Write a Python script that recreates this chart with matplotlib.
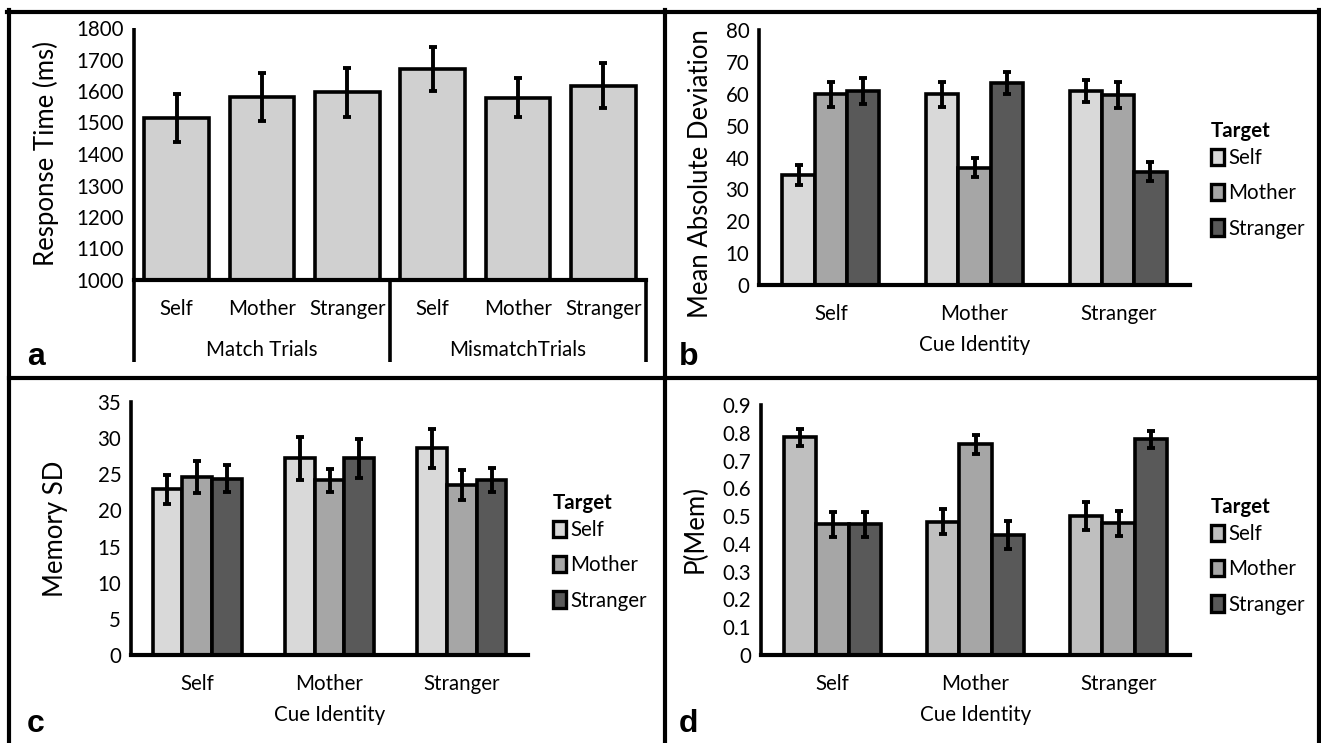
import numpy as np
import matplotlib
matplotlib.use("Agg")
import matplotlib.pyplot as plt
from matplotlib.patches import Patch
from matplotlib.lines import Line2D
from matplotlib.ticker import FuncFormatter

# ---- data ----
rt_cats = ['Self', 'Mother', 'Stranger', 'Self', 'Mother', 'Stranger']
rt_groups = ['Match Trials', 'MismatchTrials']
rt_vals = [1514, 1582, 1596, 1669, 1579, 1617]
rt_err = [75, 76, 77, 70, 61, 72]

cues = ['Self', 'Mother', 'Stranger']
targets = ['Self', 'Mother', 'Stranger']

mad_self = [34.5, 59.8, 60.8]
mad_mother = [59.8, 36.8, 59.6]
mad_stranger = [60.8, 63.4, 35.5]
mad_self_err = [3.0, 4.0, 3.5]
mad_mother_err = [4.0, 3.0, 4.0]
mad_stranger_err = [4.0, 3.5, 3.0]

sd_self = [22.9, 27.2, 28.6]
sd_mother = [24.6, 24.2, 23.5]
sd_stranger = [24.4, 27.2, 24.2]
sd_self_err = [2.0, 3.0, 2.7]
sd_mother_err = [2.2, 1.6, 2.1]
sd_stranger_err = [1.9, 2.7, 1.7]

pm_self = [0.784, 0.48, 0.50]
pm_mother = [0.47, 0.758, 0.475]
pm_stranger = [0.47, 0.432, 0.776]
pm_self_err = [0.03, 0.045, 0.05]
pm_mother_err = [0.045, 0.033, 0.045]
pm_stranger_err = [0.045, 0.05, 0.032]

W, H = 1321, 743
FONT = 'Lato'
TICK_FS = 14.8
LAB_FS = 18.5
LW = 2.6

plt.rcParams['font.family'] = [FONT, 'DejaVu Sans']

fig = plt.figure(figsize=(W / 100, H / 100), dpi=100)


def box(l, t, r, b):
    return fig.add_axes([l / W, 1 - b / H, (r - l) / W, (b - t) / H])


def ftext(x, y, s, **kw):
    fig.text(x / W, 1 - y / H, s, **kw)


def fline(xs, ys, lw=3.0):
    fig.add_artist(Line2D([x / W for x in xs], [1 - y / H for y in ys],
                          color='black', lw=lw, transform=fig.transFigure))


def style_axes(ax):
    for s in ['top', 'right']:
        ax.spines[s].set_visible(False)
    ax.spines['left'].set_linewidth(LW)
    ax.spines['bottom'].set_linewidth(LW + 0.4)
    ax.tick_params(length=0, labelsize=TICK_FS)
    ax.tick_params(axis='y', pad=7)
    ax.tick_params(axis='x', pad=14)
    ax.yaxis.set_major_formatter(FuncFormatter(lambda v, p: '%g' % round(v, 3)))
    ax.set_facecolor('none')


err_kw = dict(ecolor='black', elinewidth=2.8, capsize=3, capthick=2.8)

# ---- panel a ----
ax = box(134, 28, 646, 280)
style_axes(ax)
xa = np.arange(len(rt_vals))
ax.bar(xa, np.array(rt_vals) - 1000, bottom=1000, width=0.76, color='#d0d0d0',
       edgecolor='black', linewidth=LW, yerr=rt_err, error_kw=err_kw)
ax.set_ylim(1000, 1800)
ax.set_xlim(-0.5, 5.5)
ax.set_yticks(np.arange(1000, 1801, 100))
ax.set_xticks(xa)
ax.set_xticklabels(rt_cats)
ax.tick_params(axis='x', pad=14)
ax.spines['left'].set_visible(False)
depth = (362 - 280) / 252.0
trans = ax.transAxes
for xx in [0.0, 0.5, 1.0]:
    ax.plot([xx, xx], [-depth, 1.0 if xx == 0 else 0], color='black', lw=LW,
            transform=trans, clip_on=False, solid_capstyle='butt')
for i, g in enumerate(rt_groups):
    ax.text(0.25 + 0.5 * i, -(350 - 280) / 252.0, g, transform=trans,
            ha='center', va='center', fontsize=TICK_FS)
ftext(46, 154, 'Response Time (ms)', rotation=90, ha='center', va='center',
      fontsize=LAB_FS)

# ---- grouped panels ----
cols = ['#d9d9d9', '#a6a6a6', '#595959']


def grouped(ax, series, errs, ymax, step, cols):
    xg = np.arange(len(cues))
    w = 0.225
    for k, (vals, ee) in enumerate(zip(series, errs)):
        ax.bar(xg + (k - 1) * w, vals, width=w, color=cols[k], edgecolor='black',
               linewidth=LW, yerr=ee, error_kw=err_kw, label=targets[k])
    ax.set_xlim(-0.5, 2.5)
    ax.set_ylim(0, ymax)
    ax.set_yticks(np.arange(0, ymax + step / 2, step))
    ax.set_xticks(xg)
    ax.set_xticklabels(cues)
    ax.annotate('Cue Identity', xy=(0.5, 0), xycoords='axes fraction',
                xytext=(0, -60 * 0.72), textcoords='offset points',
                ha='center', va='center', fontsize=TICK_FS)


def legend_at(x, y, cols_cur):
    hs = [Patch(facecolor=c, edgecolor='black', linewidth=2.4) for c in cols_cur]
    leg = fig.legend(hs, targets, loc='upper left',
                     bbox_to_anchor=(x / W, 1 - y / H), frameon=False,
                     title='Target', alignment='left', fontsize=TICK_FS,
                     handlelength=0.65, handleheight=0.85, handletextpad=0.2,
                     labelspacing=0.75, borderpad=0, borderaxespad=0)
    leg.get_title().set_fontweight('bold')
    leg.get_title().set_fontsize(TICK_FS)
    leg._legend_box.sep = 5


# panel b
ax = box(759, 30, 1190, 285)
style_axes(ax)
grouped(ax, [mad_self, mad_mother, mad_stranger],
        [mad_self_err, mad_mother_err, mad_stranger_err], 80, 10, cols)
ftext(701, 174, 'Mean Absolute Deviation', rotation=90, ha='center',
      va='center', fontsize=LAB_FS)
legend_at(1211, 121, cols)

# panel c
ax = box(131, 402, 528, 655)
style_axes(ax)
grouped(ax, [sd_self, sd_mother, sd_stranger],
        [sd_self_err, sd_mother_err, sd_stranger_err], 35, 5, cols)
ftext(55, 529, 'Memory SD', rotation=90, ha='center', va='center',
      fontsize=LAB_FS)
legend_at(553, 493, cols)

# panel d
cols_d = ['#bfbfbf', '#a6a6a6', '#595959']
ax = box(761, 405, 1190, 655)
style_axes(ax)
grouped(ax, [pm_self, pm_mother, pm_stranger],
        [pm_self_err, pm_mother_err, pm_stranger_err], 0.9, 0.1, cols_d)
ftext(695, 529, 'P(Mem)', rotation=90, ha='center', va='center',
      fontsize=LAB_FS)
legend_at(1211, 497, cols_d)

# ---- panel letters ----
for s, x, y in [('a', 27, 365), ('b', 679, 365), ('c', 27, 732), ('d', 679, 732)]:
    ftext(x, y, s, fontsize=23, fontweight='bold', family='Liberation Sans',
          ha='left', va='baseline')

# ---- frame lines ----
fline([9, 9], [10, 743])
fline([7, 1321], [12, 12])
fline([1319, 1319], [10, 743])
fline([665, 665], [10, 743])
fline([9, 1319], [378, 378])

fig.savefig('out.png', dpi=100)
